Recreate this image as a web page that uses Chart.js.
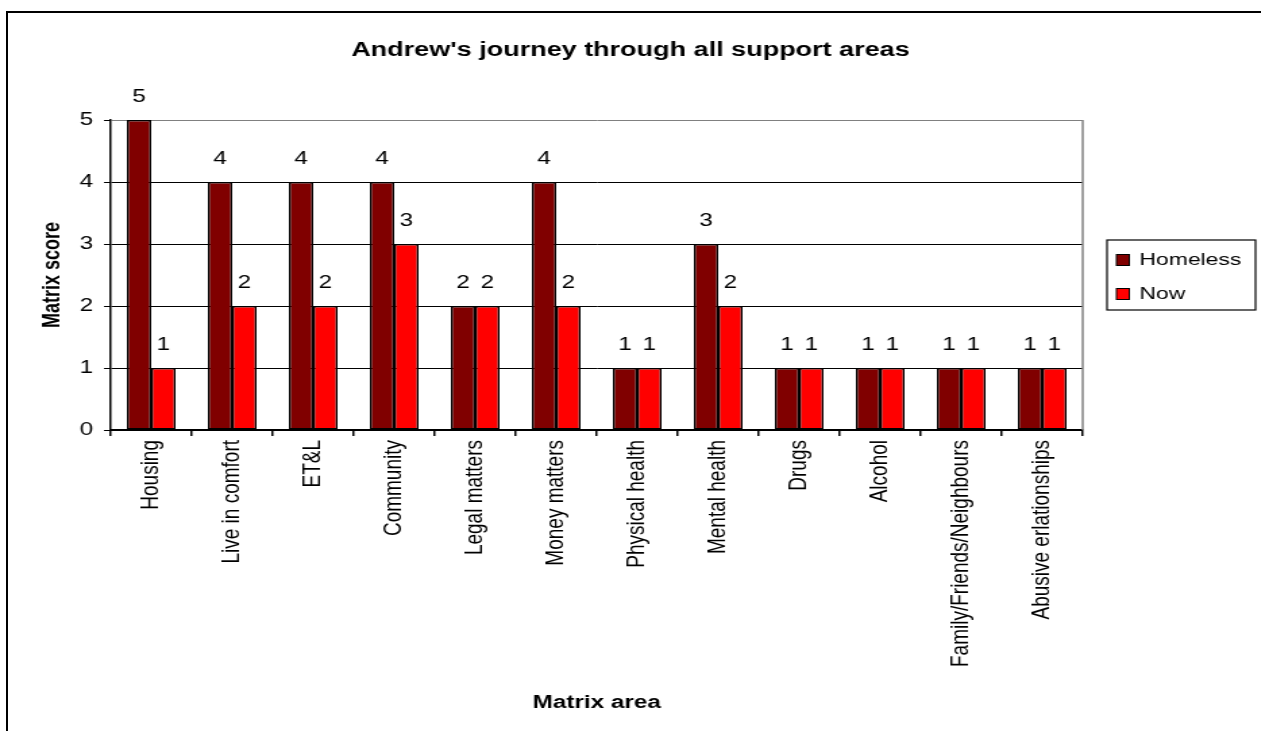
<!DOCTYPE html>
<html>
<head>
<meta charset="utf-8">
<script src="https://cdn.jsdelivr.net/npm/chart.js@4"></script>
<style>
  html, body { margin: 0; padding: 0; background: #fff; overflow: hidden; }
  /* outer chart frame: only top and left edges are visible in the picture */
  #frame { position: absolute; left: 6px; top: 11px; width: 1300px; height: 800px;
           border-top: 2px solid #000; border-left: 2px solid #000; }
  /* the original is stretched sideways, so the canvas is drawn narrow and widened */
  #wrap { position: absolute; left: 0; top: 0; width: 934px; height: 731px;
          transform: scaleX(1.35); transform-origin: 0 0; }
</style>
</head>
<body>
<div id="frame"></div>
<div id="wrap"><canvas id="chart" width="934" height="731"></canvas></div>
<script>
const categories = ['Housing', 'Live in comfort', 'ET&L', 'Community', 'Legal matters', 'Money matters',
  'Physical health', 'Mental health', 'Drugs', 'Alcohol', 'Family/Friends/Neighbours', 'Abusive erlationships'];
const homeless = [5, 4, 4, 4, 2, 4, 1, 3, 1, 1, 1, 1];
const now = [1, 2, 2, 3, 2, 2, 1, 2, 1, 1, 1, 1];
const seriesNames = ['Homeless', 'Now'];
const yTicks = [0, 1, 2, 3, 4, 5];

const FONT = '"Liberation Sans", Arial, sans-serif';

// numbers above every bar
const barValueLabels = {
  id: 'barValueLabels',
  afterDatasetsDraw(chart) {
    const ctx = chart.ctx;
    ctx.save();
    ctx.font = '18px ' + FONT;
    ctx.fillStyle = '#000';
    ctx.textAlign = 'center';
    ctx.textBaseline = 'middle';
    chart.data.datasets.forEach((ds, i) => {
      chart.getDatasetMeta(i).data.forEach((bar, j) => {
        ctx.fillText(ds.data[j], bar.x, bar.y - 23);
      });
    });
    ctx.restore();
  }
};

// grey right edge of the plot area
const plotFrame = {
  id: 'plotFrame',
  beforeDatasetsDraw(chart) {
    const a = chart.chartArea, ctx = chart.ctx;
    ctx.save();
    ctx.strokeStyle = '#808080';
    ctx.lineWidth = 1.5;
    ctx.beginPath();
    ctx.moveTo(a.right, a.top);
    ctx.lineTo(a.right, a.bottom);
    ctx.stroke();
    ctx.restore();
  }
};

// legend with a box round it, to the right of the plot
const boxedLegend = {
  id: 'boxedLegend',
  afterDraw(chart) {
    const ctx = chart.ctx, a = chart.chartArea;
    const w = 110, h = 70;
    const left = a.right + 18;
    const top = (a.top + a.bottom) / 2 - h / 2;
    ctx.save();
    ctx.strokeStyle = '#000';
    ctx.lineWidth = 1.2;
    ctx.strokeRect(left, top, w, h);
    ctx.font = '17px ' + FONT;
    ctx.textBaseline = 'middle';
    chart.data.datasets.forEach((ds, i) => {
      const y = top + 20 + i * 34;
      ctx.fillStyle = ds.backgroundColor;
      ctx.fillRect(left + 7, y - 5.5, 9.5, 11);
      ctx.lineWidth = 1;
      ctx.strokeRect(left + 7, y - 5.5, 9.5, 11);
      ctx.fillStyle = '#000';
      ctx.fillText(ds.label, left + 24, y);
    });
    ctx.restore();
  }
};

new Chart(document.getElementById('chart'), {
  type: 'bar',
  data: {
    labels: categories,
    datasets: [
      { label: seriesNames[0], data: homeless, backgroundColor: '#800000' },
      { label: seriesNames[1], data: now, backgroundColor: '#ff0000' }
    ]
  },
  options: {
    responsive: false,
    animation: false,
    categoryPercentage: 0.6,
    barPercentage: 1.0,
    datasets: {
      bar: { borderColor: '#000', borderWidth: 1.5, borderSkipped: false }
    },
    layout: { padding: 0 },
    plugins: {
      legend: { display: false },
      tooltip: { enabled: false },
      title: {
        display: true,
        text: "Andrew's journey through all support areas",
        color: '#000',
        font: { family: FONT, size: 20, weight: 'bold' },
        padding: { top: 38, bottom: 58 }
      }
    },
    scales: {
      x: {
        afterFit(scale) { scale.height = 301; },
        grid: { display: true, drawOnChartArea: false, drawTicks: true, tickLength: 6, color: '#000', lineWidth: 1.5 },
        border: { display: true, color: '#000', width: 2 },
        ticks: {
          autoSkip: false, minRotation: 90, maxRotation: 90, padding: 4,
          color: '#000', font: { family: FONT, size: 19 }
        },
        title: {
          display: true, text: 'Matrix area', color: '#000',
          font: { family: FONT, size: 18, weight: 'bold' },
          padding: { top: 0, bottom: 17 }
        }
      },
      y: {
        min: yTicks[0],
        max: yTicks[yTicks.length - 1],
        afterFit(scale) { scale.width = 82; },
        afterBuildTicks(scale) { scale.ticks = yTicks.map(v => ({ value: v })); },
        grid: {
          color: ctx => (ctx.tick && ctx.tick.value === yTicks[yTicks.length - 1]) ? '#808080' : '#000',
          tickColor: '#000',
          lineWidth: 1,
          tickLength: 5
        },
        border: { display: true, color: '#000', width: 1.5 },
        ticks: { padding: 8, color: '#000', font: { family: FONT, size: 18 } },
        title: {
          display: true, text: 'Matrix score', color: '#000',
          font: { family: FONT, size: 18, weight: 'bold' },
          padding: { top: 28, bottom: 0 }
        }
      },
      // empty right-hand axis that only keeps room for the legend
      yRight: {
        type: 'linear',
        position: 'right',
        afterFit(scale) { scale.width = 132; },
        grid: { display: false },
        border: { display: false },
        ticks: { display: false }
      }
    }
  },
  plugins: [plotFrame, barValueLabels, boxedLegend]
});
</script>
</body>
</html>
